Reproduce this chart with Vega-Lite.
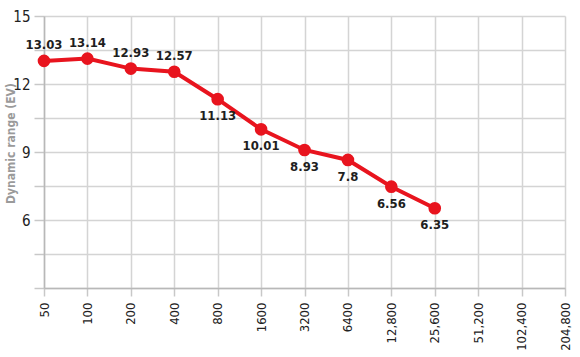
{
  "$schema": "https://vega.github.io/schema/vega-lite/v6.json",
  "width": 521,
  "height": 272,
  "autosize": {"type": "none"},
  "padding": {"left": 44, "top": 16, "right": 15, "bottom": 69},
  "background": "white",
  "config": {
    "view": {"stroke": null},
    "font": "DejaVu Sans Condensed, Roboto Condensed, sans-serif"
  },
  "data": {
    "values": [
      {"iso": "50", "ev": 13.02, "label": "13.03", "pos": "top"},
      {"iso": "100", "ev": 13.12, "label": "13.14", "pos": "top"},
      {"iso": "200", "ev": 12.68, "label": "12.93", "pos": "top"},
      {"iso": "400", "ev": 12.54, "label": "12.57", "pos": "top"},
      {"iso": "800", "ev": 11.33, "label": "11.13", "pos": "bottom"},
      {"iso": "1600", "ev": 10.0, "label": "10.01", "pos": "bottom"},
      {"iso": "3200", "ev": 9.09, "label": "8.93", "pos": "bottom"},
      {"iso": "6400", "ev": 8.65, "label": "7.8", "pos": "bottom"},
      {"iso": "12,800", "ev": 7.47, "label": "6.56", "pos": "bottom"},
      {"iso": "25,600", "ev": 6.52, "label": "6.35", "pos": "bottom"}
    ]
  },
  "encoding": {
    "x": {
      "field": "iso",
      "type": "ordinal",
      "sort": null,
      "scale": {
        "type": "point",
        "padding": 0,
        "domain": ["50", "100", "200", "400", "800", "1600", "3200", "6400", "12,800", "25,600", "51,200", "102,400", "204,800"]
      },
      "axis": {
        "title": null,
        "labelAngle": -90,
        "labelAlign": "right",
        "labelBaseline": "middle",
        "labelFontSize": 13,
        "labelColor": "#222222",
        "labelPadding": 6,
        "grid": true,
        "gridColor": "#d4d4d4",
        "gridWidth": 1.5,
        "domainColor": "#b8b8b8",
        "domainWidth": 1.5,
        "tickColor": "#c8c8c8",
        "tickWidth": 1.5,
        "tickSize": 8
      }
    },
    "y": {
      "field": "ev",
      "type": "quantitative",
      "scale": {"domain": [3, 15], "nice": false, "zero": false},
      "axis": {
        "title": "Dynamic range (EV)",
        "titleFontSize": 12,
        "titleFontWeight": "bold",
        "titleColor": "#9a9a9a",
        "titleX": -34,
        "titleY": 127,
        "titleAlign": "center",
        "titleBaseline": "middle",
        "titleAngle": -90,
        "values": [3, 4.5, 6, 7.5, 9, 10.5, 12, 13.5, 15],
        "labelExpr": "(datum.value % 3 == 0 && datum.value > 3) ? datum.label : ''",
        "labelFontSize": 15,
        "labelColor": "#222222",
        "labelPadding": 4,
        "grid": true,
        "gridColor": "#d4d4d4",
        "gridWidth": 1.5,
        "domainColor": "#b8b8b8",
        "domainWidth": 1.5,
        "tickColor": "#c8c8c8",
        "tickWidth": 1.5,
        "tickSize": 10
      }
    }
  },
  "layer": [
    {
      "mark": {"type": "line", "color": "#e8141e", "strokeWidth": 4}
    },
    {
      "mark": {"type": "circle", "color": "#e8141e", "opacity": 1, "size": 160}
    },
    {
      "transform": [{"filter": "datum.pos == 'top'"}],
      "mark": {"type": "text", "dy": -16, "baseline": "middle", "fontSize": 13, "fontWeight": "bold", "color": "#1e1e1e"},
      "encoding": {"text": {"field": "label"}}
    },
    {
      "transform": [{"filter": "datum.pos == 'bottom'"}],
      "mark": {"type": "text", "dy": 17, "baseline": "middle", "fontSize": 13, "fontWeight": "bold", "color": "#1e1e1e"},
      "encoding": {"text": {"field": "label"}}
    }
  ]
}
